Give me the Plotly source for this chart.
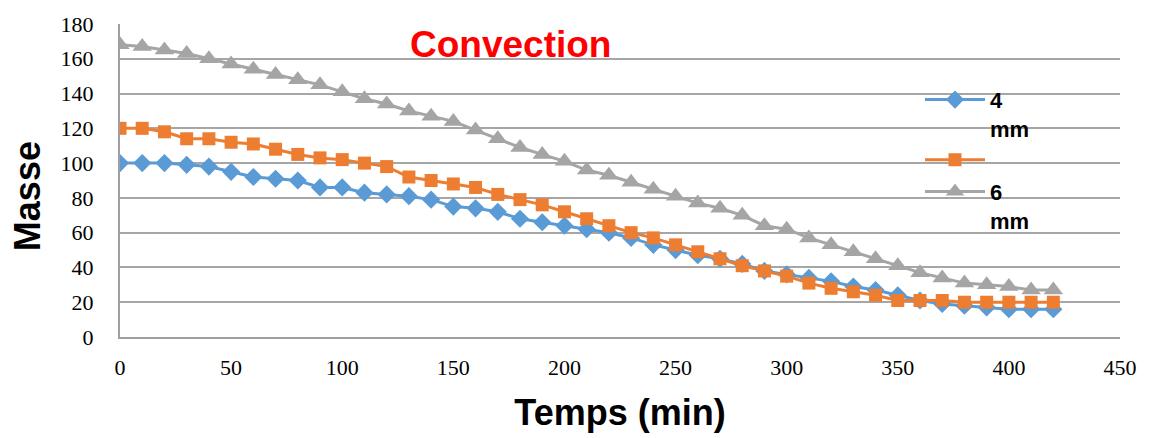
import plotly.graph_objects as go

temps = list(range(0, 430, 10))
masse_4mm = [100, 100, 100, 99, 98, 95, 92, 91, 90, 86, 86, 83, 82, 81, 79, 75, 74, 72, 68, 66, 64, 62, 60,
             57, 53, 50, 47, 45, 42, 38, 36, 34, 32, 29, 27, 24, 21, 19, 18, 17, 16, 16, 16]
masse_5mm = [120, 120, 118, 114, 114, 112, 111, 108, 105, 103, 102, 100, 98, 92, 90, 88, 86, 82, 79, 76, 72, 68, 64,
             60, 57, 53, 49, 45, 41, 38, 35, 31, 28, 26, 24, 21, 21, 21, 20, 20, 20, 20, 20]
masse_6mm = [168, 167, 165, 163, 160, 157, 154, 151, 148, 145, 141, 137, 134, 130, 127, 124, 119, 114, 109, 105, 101, 96, 93,
             89, 85, 81, 77, 74, 70, 64, 62, 57, 53, 49, 45, 41, 37, 34, 31, 30, 29, 27, 27]
series_names = ["4<br>mm", " ", "6<br>mm"]
x_ticks = list(range(0, 451, 50))
y_ticks = list(range(0, 181, 20))

fig = go.Figure()
fig.add_trace(go.Scatter(x=temps, y=masse_4mm, name=series_names[0], mode="lines+markers",
                         line=dict(color="#5B9BD5", width=3),
                         marker=dict(symbol="diamond", size=14, color="#5B9BD5")))
fig.add_trace(go.Scatter(x=temps, y=masse_5mm, name=series_names[1], mode="lines+markers",
                         line=dict(color="#ED7D31", width=3),
                         marker=dict(symbol="square", size=13, color="#ED7D31")))
fig.add_trace(go.Scatter(x=temps, y=masse_6mm, name=series_names[2], mode="lines+markers",
                         line=dict(color="#A5A5A5", width=3),
                         marker=dict(symbol="triangle-up", size=17, color="#A5A5A5")))

fig.update_layout(
    width=1150, height=438,
    margin=dict(l=120, r=30, t=22, b=101),
    paper_bgcolor="white", plot_bgcolor="white",
    showlegend=True,
    legend=dict(x=0.8, y=0.825, xanchor="left", yanchor="top", bgcolor="rgba(0,0,0,0)",
                font=dict(family="Liberation Sans, Arial", size=22, color="black", weight="bold"),
                valign="top", itemwidth=60, tracegroupgap=0),
    annotations=[
        dict(text="<b>Convection</b>", x=0.39, y=0.935, xref="paper", yref="paper",
             xanchor="center", yanchor="middle", showarrow=False,
             font=dict(family="Liberation Sans, Arial", size=37, color="#FF0000")),
        dict(text="<b>Masse</b>", x=-0.093, y=0.45, xref="paper", yref="paper", textangle=-90,
             xanchor="center", yanchor="middle", showarrow=False,
             font=dict(family="Liberation Sans, Arial", size=36, color="black")),
    ],
)
fig.update_xaxes(range=[0, 450], tickvals=x_ticks, showgrid=False, zeroline=False,
                 showline=True, linecolor="#A0A0A0", linewidth=2, ticks="",
                 tickfont=dict(family="Liberation Serif, Times New Roman", size=22, color="black"),
                 ticklabelstandoff=10,
                 title=dict(text="<b>Temps (min)</b>", standoff=20,
                            font=dict(family="Liberation Sans, Arial", size=36, color="black")))
fig.update_yaxes(range=[0, 180], tickvals=y_ticks, showgrid=True, gridcolor="#A6A6A6", gridwidth=1.5,
                 zeroline=False, showline=True, linecolor="#A0A0A0", linewidth=2, ticks="",
                 tickfont=dict(family="Liberation Serif, Times New Roman", size=22, color="black"),
                 ticklabelstandoff=20)

fig.write_html("out.html")
